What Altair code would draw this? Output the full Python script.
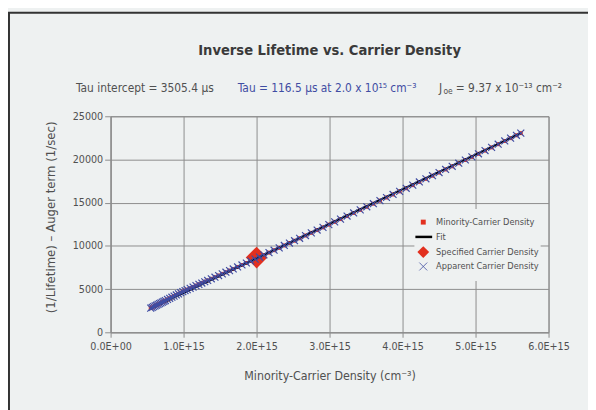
import altair as alt
import pandas as pd

# ---------------- data (carrier density in units of 1e15 cm^-3) ----------------
density = [0.55, 0.57, 0.59, 0.61, 0.63, 0.65, 0.67, 0.69, 0.71, 0.73, 0.75, 0.78,
           0.81, 0.84, 0.87, 0.90, 0.93, 0.96, 0.99, 1.02, 1.05, 1.09, 1.13, 1.17,
           1.21, 1.25, 1.29, 1.33, 1.38, 1.43, 1.48, 1.53, 1.58, 1.63, 1.68, 1.74,
           1.80, 1.86, 1.92, 1.98, 2.04, 2.10, 2.17, 2.24, 2.31, 2.38, 2.45, 2.52,
           2.59, 2.67, 2.75, 2.83, 2.91, 2.99, 3.07, 3.15, 3.24, 3.33, 3.42, 3.51,
           3.60, 3.69, 3.78, 3.87, 3.96, 4.05, 4.14, 4.23, 4.32, 4.41, 4.50, 4.59,
           4.68, 4.77, 4.86, 4.95, 5.04, 5.13, 5.22, 5.31, 5.40, 5.48, 5.56, 5.62]
inv_lifetime = [2800, 2880, 2970, 3060, 3140, 3230, 3320, 3400, 3490, 3580, 3670, 3800,
                3930, 4060, 4190, 4320, 4450, 4580, 4710, 4830, 4940, 5090, 5240, 5400,
                5550, 5700, 5850, 6000, 6190, 6380, 6570, 6760, 6950, 7140, 7330, 7560,
                7790, 8020, 8250, 8470, 8710, 8950, 9220, 9500, 9770, 10050, 10330, 10600,
                10880, 11200, 11510, 11830, 12140, 12460, 12780, 13100, 13450, 13810, 14170, 14520,
                14880, 15240, 15600, 15950, 16310, 16670, 17030, 17400, 17760, 18120, 18490, 18850,
                19210, 19570, 19940, 20300, 20660, 21030, 21400, 21770, 22140, 22470, 22800, 23050]
fit_x = [0.55, 5.62]
fit_y = [2750, 23050]
spec_x = [2.0]
spec_y = [8650]

title_text = "Inverse Lifetime vs. Carrier Density"
stat_texts = ["Tau intercept = 3505.4 µs",
              "Tau = 116.5 µs at 2.0 x 10¹⁵ cm⁻³"]
joe_parts = ["J", "oe", "= 9.37 x 10⁻¹³ cm⁻²"]
legend_labels = ["Minority-Carrier Density", "Fit",
                 "Specified Carrier Density", "Apparent Carrier Density"]
x_ticks = [0, 1, 2, 3, 4, 5, 6]
y_ticks = [0, 5000, 10000, 15000, 20000, 25000]
x_title = "Minority-Carrier Density (cm⁻³)"
y_title = "(1/Lifetime) – Auger term (1/sec)"

# ---------------- styles ----------------
FONT = "DejaVu Sans Condensed, sans-serif"
BG = "#eef1f1"
GRID = "#8c8c8c"
TXT = "#505050"
RED = "#e2301f"
BLUE = "#3f4da3"
XPATH = "M-1,-1L1,1M-1,1L1,-1"

pts = pd.DataFrame({"x": density, "y": inv_lifetime})
fit = pd.DataFrame({"x": fit_x, "y": fit_y})
spec = pd.DataFrame({"x": spec_x, "y": spec_y})
one = pd.DataFrame({"a": [0]})

xs = alt.Scale(domain=[0, 6], nice=False, zero=True)
ys = alt.Scale(domain=[0, 25000], nice=False)

x_enc = alt.X("x:Q", scale=xs, axis=alt.Axis(
    values=x_ticks,
    labelExpr="datum.value == 0 ? '0.0E+00' : format(datum.value, '.1f') + 'E+15'",
    labelFlush=False, labelOverlap=False,
    title=x_title, titleX=222, titleY=44, titleAnchor="middle",
    titleBaseline="middle", titleAlign="center", titleFontSize=12.5,
    tickSize=5, labelPadding=3))
y_enc = alt.Y("y:Q", scale=ys, axis=alt.Axis(
    values=y_ticks, format="d", labelFlush=False, labelOverlap=False,
    title=y_title, titleX=-61, titleY=102, titleAngle=270,
    titleBaseline="middle", titleAlign="center", titleFontSize=13.2,
    tickSize=6, labelPadding=2))

border = alt.Chart(one).mark_rect(filled=False, stroke="#333333", strokeWidth=2).encode(
    x=alt.value(-103), x2=alt.value(600), y=alt.value(-105), y2=alt.value(500))

diamond = alt.Chart(spec).mark_point(shape="diamond", filled=True, size=484,
                                     color=RED, opacity=1).encode(x=x_enc, y=y_enc)
squares = alt.Chart(pts).mark_square(size=16, color=RED, opacity=1).encode(
    x=alt.X("x:Q", scale=xs), y=alt.Y("y:Q", scale=ys))
fit_line = alt.Chart(fit).mark_line(color="black", strokeWidth=2).encode(
    x=alt.X("x:Q", scale=xs), y=alt.Y("y:Q", scale=ys))
crosses = alt.Chart(pts).mark_point(shape=XPATH, size=49, color=BLUE, strokeWidth=1.2,
                                    filled=False, opacity=1).encode(
    x=alt.X("x:Q", scale=xs), y=alt.Y("y:Q", scale=ys))

title = alt.Chart(one).mark_text(font=FONT, fontSize=14.8, fontWeight="bold", color="#3a3a3a",
                                 align="center", baseline="middle").encode(
    x=alt.value(222), y=alt.value(-66), text=alt.value(title_text))

stat_x = [-35, 129]
stat_col = [TXT, BLUE]
stats = [alt.Chart(one).mark_text(font=FONT, fontSize=12, color=c, align="left",
                                  baseline="middle").encode(
    x=alt.value(sx), y=alt.value(-29), text=alt.value(t))
    for t, sx, c in zip(stat_texts, stat_x, stat_col)]
joe_x = [333, 337.5, 350]
joe_y = [-29, -25.5, -29]
joe_fs = [12, 8.5, 12]
joe = [alt.Chart(one).mark_text(font=FONT, fontSize=fs, color=TXT, align="left",
                                baseline="middle").encode(
    x=alt.value(jx), y=alt.value(jy), text=alt.value(t))
    for t, jx, jy, fs in zip(joe_parts, joe_x, joe_y, joe_fs)]

legend_box = alt.Chart(one).mark_rect(fill=BG).encode(
    x=alt.value(308), x2=alt.value(436), y=alt.value(94), y2=alt.value(167))
row_y = [107.3, 122.3, 137.7, 152.3]
leg_texts = [alt.Chart(one).mark_text(font=FONT, fontSize=9.3, color=TXT, align="left",
                                      baseline="middle").encode(
    x=alt.value(330), y=alt.value(ry), text=alt.value(t))
    for t, ry in zip(legend_labels, row_y)]
leg_sq = alt.Chart(one).mark_square(size=25, color=RED, opacity=1).encode(
    x=alt.value(317), y=alt.value(row_y[0]))
leg_line = alt.Chart(one).mark_rule(color="black", strokeWidth=2.5).encode(
    x=alt.value(309), x2=alt.value(326), y=alt.value(row_y[1]))
leg_dia = alt.Chart(one).mark_point(shape="diamond", filled=True, size=144, color=RED,
                                    opacity=1).encode(x=alt.value(317), y=alt.value(row_y[2]))
leg_x = alt.Chart(one).mark_point(shape=XPATH, size=64, color=BLUE, strokeWidth=0.8,
                                  filled=False, opacity=1).encode(
    x=alt.value(317), y=alt.value(row_y[3]))

chart = alt.layer(
    diamond, border, squares, fit_line, crosses, title, *stats, *joe,
    legend_box, *leg_texts, leg_sq, leg_line, leg_dia, leg_x
).properties(
    width=444, height=219,
    autosize=alt.AutoSizeParams(type="none"),
    padding={"left": 104, "top": 107, "right": 40, "bottom": 76},
    background=BG,
).configure_view(
    stroke=GRID, strokeWidth=1
).configure_axis(
    domainColor=GRID, gridColor=GRID, tickColor=GRID, grid=True,
    gridWidth=1, domainWidth=1, tickWidth=1,
    labelFont=FONT, labelFontSize=10.8, labelColor=TXT,
    titleFont=FONT, titleColor=TXT, titleFontWeight="normal",
)

chart.save("out.html", embed_options={"renderer": "svg", "actions": False})
